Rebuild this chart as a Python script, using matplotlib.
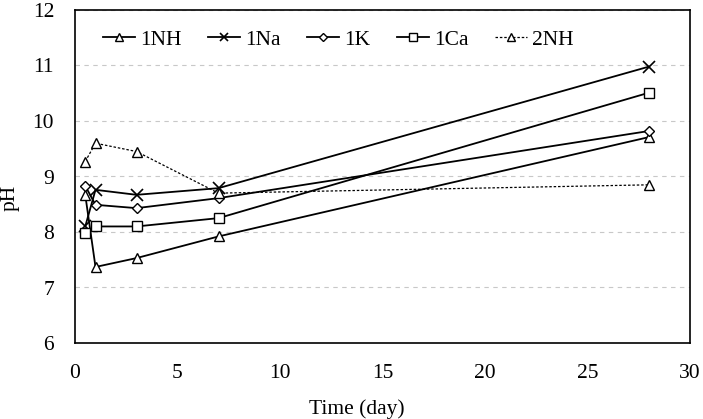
import matplotlib
matplotlib.use("Agg")
import matplotlib.pyplot as plt

plt.rcParams['font.family'] = ['Liberation Serif', 'DejaVu Serif']

# sampling days
days = [0.5, 1, 3, 7, 28]

# pH readings for each mix
ph_1nh = [8.67, 7.37, 7.53, 7.92, 9.71]
ph_1na = [8.10, 8.76, 8.67, 8.79, 10.98]
ph_1k = [8.83, 8.49, 8.43, 8.61, 9.82]
ph_1ca = [7.98, 8.10, 8.10, 8.25, 10.51]
ph_2nh = [9.27, 9.60, 9.45, 8.70, 8.85]

fig = plt.figure(figsize=(7.03, 4.19), dpi=100)
ax = fig.add_axes([75 / 703, 1 - 343 / 419, 615 / 703, 333 / 419])

mk = dict(color='black', markerfacecolor='white', markeredgecolor='black',
          markersize=7, markeredgewidth=1.0)
ax.plot(days, ph_1nh, '-', marker='^', lw=1.3, label='1NH', **mk)
ax.plot(days, ph_1na, '-', marker='x', lw=1.3, label='1Na', color='black',
        markersize=8, markeredgewidth=1.2)
ax.plot(days, ph_1k, '-', marker='D', lw=1.3, label='1K', **dict(mk, markersize=5))
ax.plot(days, ph_1ca, '-', marker='s', lw=1.3, label='1Ca', **mk)
ax.plot(days, ph_2nh, '--', marker='^', lw=0.9, dashes=(2, 1.5), label='2NH', **mk)

ax.set_xlim(0, 30)
ax.set_ylim(6, 12)
ax.set_xticks([0, 5, 10, 15, 20, 25, 30])
ax.set_yticks([6, 7, 8, 9, 10, 11, 12])
ax.tick_params(length=0, labelsize=15.5, pad=15)
ax.yaxis.grid(True, linestyle=(0, (4, 4)), color='#c8c8c8', lw=0.8)
ax.set_axisbelow(True)
for s in ax.spines.values():
    s.set_linewidth(1.2)

ax.set_xlabel('Time (day)', fontsize=15.5, ha='center', va='center')
ax.xaxis.set_label_coords(0.459, -0.20)
ax.set_ylabel('pH', fontsize=15.5, ha='center', va='center')
ax.yaxis.set_label_coords(-0.105, 0.435)

ax.legend(loc='center left', ncol=5, frameon=False, fontsize=15.5,
          markerscale=0.8, handlelength=1.5, columnspacing=1.2,
          handletextpad=0.25, borderpad=0, borderaxespad=0,
          bbox_to_anchor=(0.0455, 0.91))

fig.savefig('out.png', dpi=100)
